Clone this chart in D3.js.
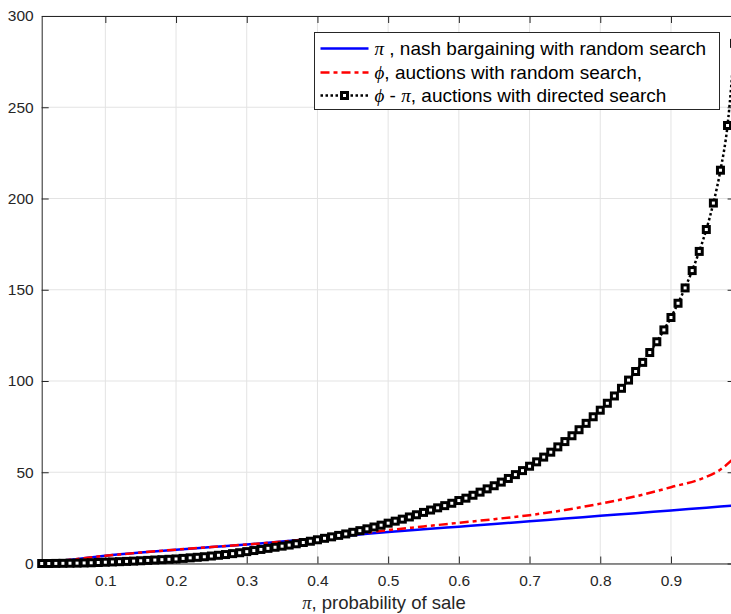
<!DOCTYPE html>
<html>
<head>
<meta charset="utf-8">
<script src="https://cdn.jsdelivr.net/npm/d3@7"></script>
<style>
  body { margin: 0; background: #fff; }
  svg { display: block; font-family: "Liberation Sans", Arial, sans-serif; }
</style>
</head>
<body>
<svg id="chart" width="731" height="614"></svg>
<script>
// probability of sale, x positions of the smooth curves
const lineX = [0.01, 0.05, 0.10, 0.15, 0.20, 0.25, 0.30, 0.35, 0.40, 0.45, 0.50,
  0.55, 0.60, 0.65, 0.70, 0.75, 0.80, 0.85, 0.90, 0.95, 0.97, 0.99];
// pi, nash bargaining with random search
const nashRandom = [0.2, 2.0, 4.2, 6.0, 7.6, 9.0, 10.4, 12.0, 13.7, 15.5, 17.3,
  18.8, 20.2, 21.6, 23.1, 24.6, 26.1, 27.6, 29.1, 30.6, 31.2, 31.8];
// phi, auctions with random search
const auctionRandom = [0.2, 2.0, 4.2, 6.0, 7.6, 9.0, 10.4, 12.0, 13.8, 15.9, 18.3,
  20.3, 22.3, 24.3, 26.5, 29.3, 32.8, 36.8, 41.8, 47.5, 51.5, 58.0];
// phi - pi, auctions with directed search (one marker per 0.01)
const markerX = d3.range(1, 100).map(i => i / 100);
const auctionDirected = [
  0.0, 0.0, 0.05, 0.1, 0.15, 0.2, 0.3, 0.4, 0.55, 0.7,
  0.85, 1.0, 1.15, 1.3, 1.5, 1.7, 1.9, 2.1, 2.3, 2.5,
  2.8, 3.1, 3.4, 3.7, 4.1, 4.5, 4.9, 5.4, 5.9, 6.5,
  7.1, 7.7, 8.3, 8.9, 9.5, 10.1, 10.8, 11.5, 12.2, 13.0,
  13.8, 14.6, 15.4, 16.2, 17.1, 18.0, 19.0, 20.0, 21.0, 22.1,
  23.2, 24.3, 25.5, 26.7, 28.0, 29.3, 30.5, 31.7, 33.0, 34.5,
  35.8, 37.4, 39.1, 40.9, 42.6, 44.6, 46.6, 48.7, 50.9, 53.3,
  55.7, 58.3, 61.0, 63.9, 66.8, 70.0, 73.3, 76.8, 80.4, 84.0,
  87.8, 91.8, 96.0, 100.5, 105.2, 110.2, 115.6, 121.5, 128.0, 134.8,
  142.6, 151.0, 160.5, 171.0, 183.0, 197.5, 215.5, 240.0, 285.0
];
const xTicks = [0.1, 0.2, 0.3, 0.4, 0.5, 0.6, 0.7, 0.8, 0.9];
const yTicks = [0, 50, 100, 150, 200, 250, 300];
const legendLabels = [
  [["π", true], [" , nash bargaining with random search", false]],
  [["ϕ", true], [", auctions with random search,", false]],
  [["ϕ", true], [" - ", false], ["π", true], [", auctions with directed search", false]]
];

const svg = d3.select("#chart");
const plotLeft = 41.7, plotRight = 734.6, plotTop = 16, plotBottom = 563.5;

const x = d3.scaleLinear().domain([0.01, 0.99]).range([plotLeft, plotRight]);
const y = d3.scaleLinear().domain([0, 300]).range([plotBottom, plotTop]);

// grid
const grid = svg.append("g").attr("class", "grid");
grid.selectAll("line.gx")
  .data(xTicks)
  .enter()
  .append("line")
  .attr("class", "gx")
  .attr("x1", d => x(d)).attr("x2", d => x(d))
  .attr("y1", plotTop).attr("y2", plotBottom);
grid.selectAll("line.gy")
  .data(yTicks)
  .enter()
  .append("line")
  .attr("class", "gy")
  .attr("x1", plotLeft).attr("x2", plotRight)
  .attr("y1", d => y(d)).attr("y2", d => y(d));
grid.selectAll("line").attr("stroke", "#e3e3e3").attr("stroke-width", 1);

// axes, MATLAB style ticks pointing inward
function styleAxis(g) {
  g.select(".domain").attr("stroke", "#262626").attr("stroke-width", 1);
  g.selectAll(".tick line").attr("stroke", "#262626");
  g.selectAll(".tick text").attr("fill", "#262626").style("font-size", "15.5px");
}

svg.append("g")
  .attr("transform", `translate(0,${plotBottom})`)
  .call(d3.axisBottom(x).tickValues(xTicks).tickSize(-7).tickSizeOuter(0).tickPadding(11)
    .tickFormat(d3.format(".1f")))
  .call(styleAxis);

svg.append("g")
  .attr("transform", `translate(${plotLeft},0)`)
  .call(d3.axisLeft(y).tickValues(yTicks).tickSize(-7).tickSizeOuter(0).tickPadding(8))
  .call(styleAxis);

svg.append("g")
  .attr("transform", `translate(0,${plotTop})`)
  .call(d3.axisTop(x).tickValues(xTicks).tickSize(-7).tickSizeOuter(0).tickFormat(""))
  .call(styleAxis);

svg.append("g")
  .attr("transform", `translate(${plotRight},0)`)
  .call(d3.axisRight(y).tickValues(yTicks).tickSize(-7).tickSizeOuter(0).tickFormat(""))
  .call(styleAxis);

// curves
const smooth = d3.line().curve(d3.curveMonotoneX);

svg.append("path")
  .datum(lineX.map((d, i) => [x(d), y(nashRandom[i])]))
  .attr("d", smooth)
  .attr("fill", "none")
  .attr("stroke", "#0000ff")
  .attr("stroke-width", 2.5);

svg.append("path")
  .datum(lineX.map((d, i) => [x(d), y(auctionRandom[i])]))
  .attr("d", smooth)
  .attr("fill", "none")
  .attr("stroke", "#ff0000")
  .attr("stroke-width", 2.5)
  .attr("stroke-dasharray", "9,4,4,4");

const directed = markerX.map((d, i) => [x(d), y(auctionDirected[i])]);

svg.append("path")
  .datum(directed)
  .attr("d", smooth)
  .attr("fill", "none")
  .attr("stroke", "#000")
  .attr("stroke-width", 2.5)
  .attr("stroke-dasharray", "2.5,2.5");

const ms = 6;
svg.append("g")
  .selectAll("rect")
  .data(directed)
  .enter()
  .append("rect")
  .attr("x", d => d[0] - ms / 2)
  .attr("y", d => d[1] - ms / 2)
  .attr("width", ms)
  .attr("height", ms)
  .attr("fill", "#fff")
  .attr("stroke", "#000")
  .attr("stroke-width", 3);

// legend
const legend = svg.append("g").attr("transform", "translate(314.5,32.5)");
legend.append("rect")
  .attr("width", 405)
  .attr("height", 77)
  .attr("fill", "#fff")
  .attr("stroke", "#262626")
  .attr("stroke-width", 1);

const rowY = [16, 40, 63];
const styles = [
  { color: "#0000ff", dash: null },
  { color: "#ff0000", dash: "9,4,4,4" },
  { color: "#000", dash: "2.5,2.5" }
];
legendLabels.forEach((parts, i) => {
  legend.append("line")
    .attr("x1", 6).attr("x2", 54)
    .attr("y1", rowY[i]).attr("y2", rowY[i])
    .attr("stroke", styles[i].color)
    .attr("stroke-width", 2.5)
    .attr("stroke-dasharray", styles[i].dash);
  if (i === 2) {
    legend.append("rect")
      .attr("x", 30 - ms / 2).attr("y", rowY[i] - ms / 2)
      .attr("width", ms).attr("height", ms)
      .attr("fill", "#fff").attr("stroke", "#000").attr("stroke-width", 3);
  }
  const t = legend.append("text")
    .attr("x", 60)
    .attr("y", rowY[i])
    .attr("dy", "0.35em")
    .attr("fill", "#000")
    .style("font-size", "19px");
  parts.forEach(p => {
    t.append("tspan")
      .text(p[0])
      .style("font-family", p[1] ? "'Liberation Serif', 'DejaVu Serif', serif" : null)
      .style("font-style", p[1] ? "italic" : null);
  });
});

// x label
const xl = svg.append("text")
  .attr("x", 384)
  .attr("y", 603)
  .attr("dy", "0.35em")
  .attr("text-anchor", "middle")
  .attr("fill", "#262626")
  .style("font-size", "18.5px");
xl.append("tspan").text("π").style("font-family", "'Liberation Serif', serif").style("font-style", "italic");
xl.append("tspan").text(", probability of sale");
</script>
</body>
</html>
